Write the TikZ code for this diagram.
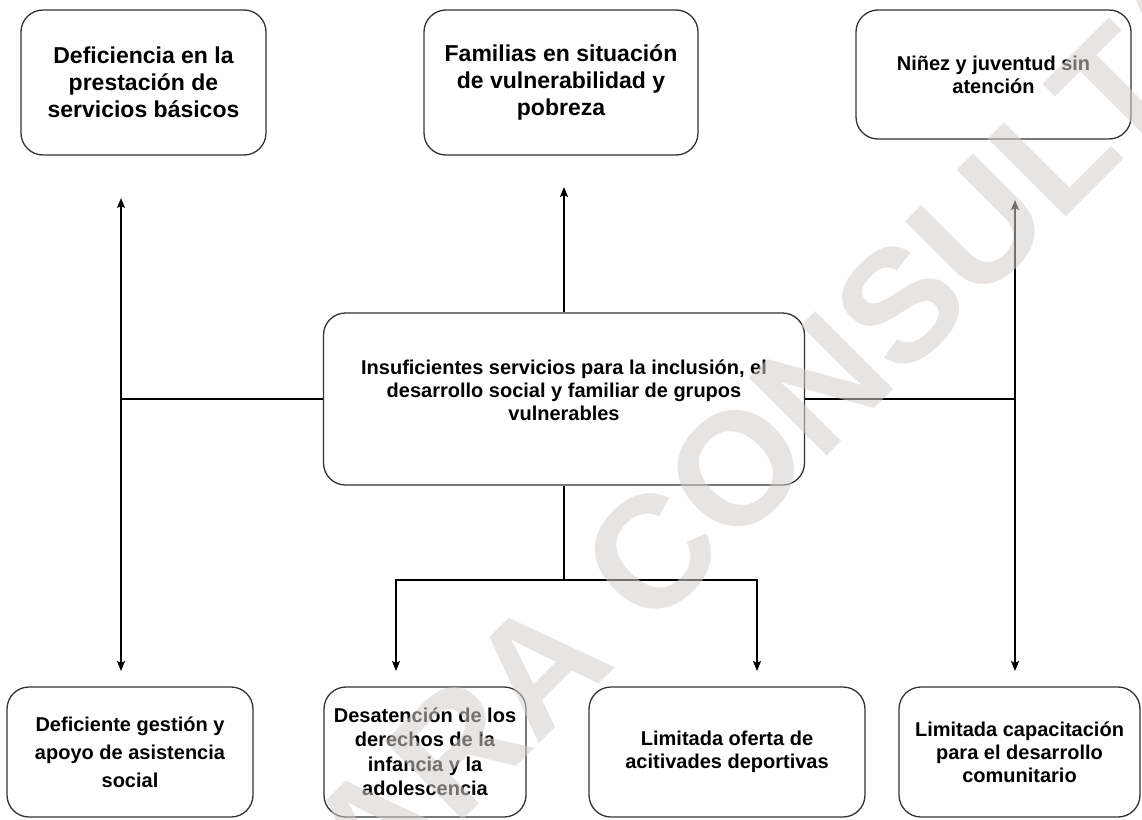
\documentclass[tikz,border=0pt]{standalone}
\usepackage{fontspec}
\setmainfont{Liberation Sans}
\usetikzlibrary{arrows.meta}

\definecolor{borde}{HTML}{333333}
\definecolor{marca}{RGB}{213,205,202}

\tikzset{
	caja/.style={draw=borde, line width=1.3pt, rounded corners=22pt, align=center, inner sep=0pt},
	grande/.style={font=\fontsize{23}{27}\selectfont\bfseries},
	medio/.style={font=\fontsize{20}{23}\selectfont\bfseries},
	flecha/.style={-{Stealth[length=10pt,width=8pt,inset=2pt]}},
}

\begin{document}
\begin{tikzpicture}[x=1pt, y=-1pt, line width=1.2pt]
	\useasboundingbox (0,0) rectangle (1142,819);
	% efectos
	\node[caja, grande, minimum width=245pt, minimum height=145pt] (efecto1) at (143.5,82.5) {Deficiencia en la\\prestación de\\servicios básicos};
	\node[caja, grande, minimum width=274pt, minimum height=145pt] (efecto2) at (561,82.5) {Familias en situación\\de vulnerabilidad y\\pobreza};
	\node[caja, medio, minimum width=275pt, minimum height=129pt] (efecto3) at (993.5,74.5) {Niñez y juventud sin\\atención};
	% problema central
	\node[caja, medio, text depth=18pt, minimum width=481pt, minimum height=172pt] (problema) at (564,399) {Insuficientes servicios para la inclusión, el\\desarrollo social y familiar de grupos\\vulnerables};
	% causas
	\node[caja, font=\fontsize{20}{28}\selectfont\bfseries, minimum width=246pt, minimum height=130pt] (causa1) at (130,752) {Deficiente gestión y\\apoyo de asistencia\\social};
	\node[caja, font=\fontsize{20}{24.5}\selectfont\bfseries, minimum width=202pt, minimum height=130pt] (causa2) at (425,752) {Desatención de los\\derechos de la\\infancia y la\\adolescencia};
	\node[caja, medio, minimum width=276pt, minimum height=130pt] (causa3) at (727,752) {Limitada oferta de\\acitivades deportivas};
	\node[caja, medio, minimum width=241pt, minimum height=130pt] (causa4) at (1019.5,752) {Limitada capacitación\\para el desarrollo\\comunitario};
	% conectores
	\coordinate (izqArriba) at (121,198);
	\coordinate (izqAbajo) at (121,671);
	\coordinate (izqUnion) at (121,399);
	\draw[flecha] (izqUnion) -- (izqArriba);
	\draw[flecha] (izqUnion) -- (izqAbajo);
	\draw (problema.west) -- (izqUnion);
	\coordinate (centroArriba) at (564,187);
	\draw[flecha] (problema.north) -- (centroArriba);
	\coordinate (centroUnion) at (564,580);
	\coordinate (causa2Punta) at (396,671);
	\coordinate (causa3Punta) at (757,671);
	\draw (problema.south) -- (centroUnion);
	\draw[flecha] (centroUnion) -| (causa2Punta);
	\draw[flecha] (centroUnion) -| (causa3Punta);
	\coordinate (derArriba) at (1015,200);
	\coordinate (derAbajo) at (1015,671);
	\coordinate (derUnion) at (1015,399);
	\draw[flecha] (derUnion) -- (derArriba);
	\draw[flecha] (derUnion) -- (derAbajo);
	\draw (problema.east) -- (derUnion);
	% marca de agua
	\begin{scope}
		\clip (0,0) rectangle (1142,819);
		\node[text=marca, text opacity=0.55, rotate=45, font=\fontsize{160}{160}\selectfont\bfseries] (marcaAgua) at (745,460) {PARA CONSULTA};
	\end{scope}
\end{tikzpicture}
\end{document}
